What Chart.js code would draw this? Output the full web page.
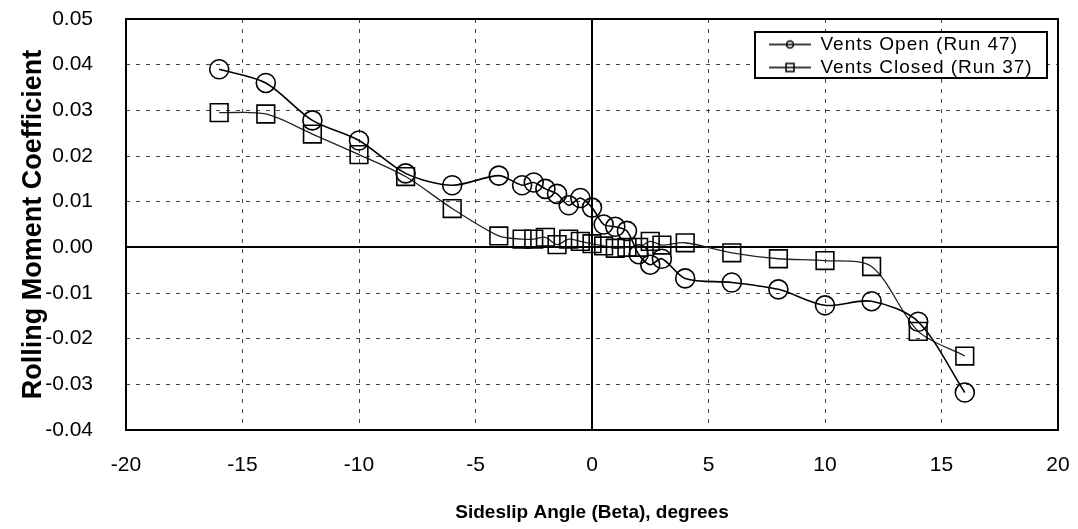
<!DOCTYPE html>
<html>
<head>
<meta charset="utf-8">
<script src="https://cdn.jsdelivr.net/npm/chart.js@4.4.0/dist/chart.umd.min.js"></script>
<style>
  html, body { margin: 0; padding: 0; background: #fff; }
</style>
</head>
<body>
<canvas id="chart" width="1078" height="529"></canvas>
<script>
// sideslip angles (deg) and rolling moment coefficient
const betaOpen = [-16, -14, -12, -10, -8, -6, -4, -3, -2.5, -2, -1.5, -1, -0.5, 0, 0.5, 1, 1.5, 2, 2.5, 3, 4, 6, 8, 10, 12, 14, 16];
const openValues = [0.0390, 0.0360, 0.0278, 0.0234, 0.0162, 0.0136, 0.0157, 0.0136, 0.0142, 0.0128, 0.0117, 0.0092, 0.0108, 0.0087, 0.0050, 0.0045, 0.0036, -0.0015, -0.0038, -0.0025, -0.0068, -0.0077, -0.0092, -0.0127, -0.0118, -0.0163, -0.0318];

const betaClosed = [-16, -14, -12, -10, -8, -6, -4, -3, -2.5, -2, -1.5, -1, -0.5, 0, 0.5, 1, 1.5, 2, 2.5, 3, 4, 6, 8, 10, 12, 14, 16];
const closedValues = [0.0295, 0.0292, 0.0248, 0.0203, 0.0155, 0.0085, 0.0025, 0.0018, 0.0018, 0.0022, 0.0006, 0.0018, 0.0013, 0.0008, 0.0003, -0.0002, 0.0000, 0.0000, 0.0013, 0.0005, 0.0010, -0.0012, -0.0025, -0.0029, -0.0042, -0.0184, -0.0238];

const seriesNames = ["Vents Open (Run 47)", "Vents Closed (Run 37)"];
const xTicks = [-20, -15, -10, -5, 0, 5, 10, 15, 20];
const yTicks = [-0.04, -0.03, -0.02, -0.01, 0, 0.01, 0.02, 0.03, 0.04, 0.05];

const sans = "'Liberation Sans', Arial, sans-serif";

function toPoints(xs, ys) {
  return xs.map((x, i) => ({ x: x, y: ys[i] }));
}

// line + marker image for the legend
function legendSample(kind) {
  const c = document.createElement("canvas");
  c.width = 42;
  c.height = 14;
  const g = c.getContext("2d");
  g.strokeStyle = "#000";
  g.lineWidth = 1.5;
  g.beginPath();
  g.moveTo(0, 7);
  g.lineTo(42, 7);
  g.stroke();
  g.fillStyle = "#fff";
  g.beginPath();
  if (kind === "circle") {
    g.arc(21, 7, 3.5, 0, Math.PI * 2);
  } else {
    g.rect(17, 3, 8, 8);
  }
  g.fill();
  g.stroke();
  g.beginPath();
  g.moveTo(17, 7);
  g.lineTo(25, 7);
  g.stroke();
  return c;
}
const samples = [legendSample("circle"), legendSample("rect")];

const gridDash = (ctx) => (ctx.tick && ctx.tick.value === 0 ? [] : [4, 6]);
const gridColor = (ctx) => (ctx.tick && ctx.tick.value === 0 ? "#000" : "#444");
const gridWidth = (ctx) => (ctx.tick && ctx.tick.value === 0 ? 2 : 1);

const framePlugin = {
  id: "frame",
  afterLayout(chart) {
    const lg = chart.legend;
    if (!lg) return;
    lg.left = 765;
    lg.right = 1047;
    lg.top = 31;
    lg.bottom = 130;
    if (!lg._boxed) {
      const base = lg.draw;
      lg.draw = function (area) {
        const ctx = this.ctx;
        ctx.save();
        ctx.fillStyle = "#fff";
        ctx.fillRect(755, 32, 292, 46);
        ctx.strokeStyle = "#000";
        ctx.lineWidth = 2;
        ctx.strokeRect(755, 32, 292, 46);
        ctx.letterSpacing = "1px";
        base.call(this, area);
        ctx.restore();
        ctx.letterSpacing = "0px";
      };
      lg._boxed = true;
    }
  },
  beforeDatasetsDraw(chart) {
    const { ctx, chartArea: a } = chart;
    ctx.save();
    ctx.strokeStyle = "#000";
    ctx.lineWidth = 2;
    ctx.strokeRect(a.left, a.top, a.right - a.left, a.bottom - a.top);
    ctx.restore();
  }
};

new Chart(document.getElementById("chart"), {
  type: "scatter",
  data: {
    datasets: [
      {
        label: seriesNames[0],
        data: toPoints(betaOpen, openValues),
        showLine: true,
        tension: 0.3,
        borderColor: "#000",
        borderWidth: 1.6,
        pointStyle: "circle",
        pointRadius: 9.5,
        pointBorderWidth: 1.6,
        pointBorderColor: "#000",
        pointBackgroundColor: "rgba(0,0,0,0)"
      },
      {
        label: seriesNames[1],
        data: toPoints(betaClosed, closedValues),
        showLine: true,
        tension: 0.3,
        borderColor: "#222",
        borderWidth: 1.3,
        pointStyle: "rect",
        pointRadius: 12.5,
        pointBorderWidth: 1.6,
        pointBorderColor: "#000",
        pointBackgroundColor: "rgba(0,0,0,0)"
      }
    ]
  },
  options: {
    responsive: false,
    animation: false,
    layout: { autoPadding: false, padding: { left: 0, right: 20, top: 19, bottom: 0 } },
    plugins: {
      tooltip: { enabled: false },
      legend: {
        position: "chartArea",
        fullSize: false,
        align: "start",
        labels: {
          usePointStyle: true,
          pointStyleWidth: 42,
          padding: 4,
          color: "#000",
          font: { family: sans, size: 19 },
          generateLabels: (chart) =>
            chart.data.datasets.map((ds, i) => ({
              text: ds.label,
              pointStyle: samples[i],
              fillStyle: "#fff",
              strokeStyle: "#000",
              lineWidth: 0,
              fontColor: "#000",
              datasetIndex: i
            }))
        }
      }
    },
    scales: {
      x: {
        type: "linear",
        min: -20,
        max: 20,
        afterBuildTicks: (scale) => { scale.ticks = xTicks.map((v) => ({ value: v })); },
        afterFit: (scale) => {
          scale.height = 99;
          scale.paddingLeft = 0;
          scale.paddingRight = 0;
        },
        ticks: {
          padding: 23,
          color: "#000",
          font: { family: sans, size: 21 },
          callback: (v) => String(v)
        },
        grid: { drawTicks: false, color: gridColor, lineWidth: gridWidth },
        border: { display: false, dash: gridDash },
        title: {
          display: true,
          text: "Sideslip Angle (Beta), degrees",
          color: "#000",
          font: { family: sans, size: 19, weight: "bold" },
          padding: { top: 0, bottom: 5 }
        }
      },
      y: {
        type: "linear",
        min: -0.04,
        max: 0.05,
        afterBuildTicks: (scale) => { scale.ticks = yTicks.map((v) => ({ value: v })); },
        afterFit: (scale) => {
          scale.width = 126;
          scale.paddingTop = 0;
          scale.paddingBottom = 0;
        },
        ticks: {
          padding: 33,
          color: "#000",
          font: { family: sans, size: 21 },
          callback: (v) => v.toFixed(2)
        },
        grid: { drawTicks: false, color: gridColor, lineWidth: gridWidth },
        border: { display: false, dash: gridDash },
        title: {
          display: true,
          text: "Rolling Moment Coefficient",
          color: "#000",
          font: { family: sans, size: 27, weight: "bold" },
          padding: { top: 17, bottom: 0 }
        }
      }
    }
  },
  plugins: [framePlugin]
});
</script>
</body>
</html>
